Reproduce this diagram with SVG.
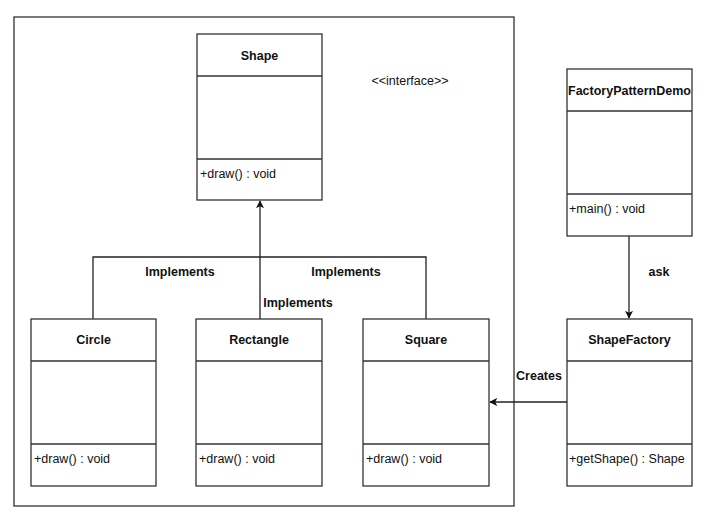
<svg xmlns="http://www.w3.org/2000/svg" width="710" height="516" viewBox="0 0 710 516">
<style>
.box{fill:#fff;stroke:#333;stroke-width:1.3}
.div{stroke:#333;stroke-width:1.3}
.t{font-family:"Liberation Sans",Arial,sans-serif;font-size:12.5px;fill:#111}
.b{font-weight:bold;text-anchor:middle}
.c{fill:none;stroke:#222;stroke-width:1.3}
</style>
<defs>
<marker id="arr" viewBox="0 0 10 10" refX="9" refY="5" markerWidth="8" markerHeight="8" markerUnits="userSpaceOnUse" orient="auto">
<path d="M0,0 L10,5 L0,10 L2.5,5 Z" fill="#111"/>
</marker>
</defs>
<rect x="0" y="0" width="710" height="516" fill="#fff"/>
<g id="frame">
<rect x="14" y="17" width="500" height="489" class="box"/>
<text x="410" y="85" class="t" text-anchor="middle">&lt;&lt;interface&gt;&gt;</text>
</g>
<g id="connectors">
<path d="M93,319 V257 H426 V319" class="c"/>
<path d="M260,319 V201" class="c" marker-end="url(#arr)"/>
<path d="M629,236 V318" class="c" marker-end="url(#arr)"/>
<path d="M567,402 H490" class="c" marker-end="url(#arr)"/>
<text x="180" y="276" class="t b">Implements</text>
<text x="346" y="276" class="t b">Implements</text>
<text x="298" y="307" class="t b">Implements</text>
<text x="659" y="276" class="t b">ask</text>
<text x="539" y="380" class="t b">Creates</text>
</g>
<g id="Shape">
<rect x="197" y="34" width="125" height="166" class="box"/>
<line x1="197" y1="76" x2="322" y2="76" class="div"/>
<line x1="197" y1="159" x2="322" y2="159" class="div"/>
<text x="259.5" y="60" class="t b">Shape</text>
<text x="200" y="178" class="t">+draw() : void</text>
</g>
<g id="Circle">
<rect x="31" y="319" width="125" height="167" class="box"/>
<line x1="31" y1="361" x2="156" y2="361" class="div"/>
<line x1="31" y1="444" x2="156" y2="444" class="div"/>
<text x="93.5" y="344" class="t b">Circle</text>
<text x="34" y="463" class="t">+draw() : void</text>
</g>
<g id="Rectangle">
<rect x="196" y="319" width="126" height="167" class="box"/>
<line x1="196" y1="361" x2="322" y2="361" class="div"/>
<line x1="196" y1="444" x2="322" y2="444" class="div"/>
<text x="259" y="344" class="t b">Rectangle</text>
<text x="199" y="463" class="t">+draw() : void</text>
</g>
<g id="Square">
<rect x="363" y="319" width="126" height="167" class="box"/>
<line x1="363" y1="361" x2="489" y2="361" class="div"/>
<line x1="363" y1="444" x2="489" y2="444" class="div"/>
<text x="426" y="344" class="t b">Square</text>
<text x="366" y="463" class="t">+draw() : void</text>
</g>
<g id="FactoryPatternDemo">
<rect x="567" y="69" width="125" height="167" class="box"/>
<line x1="567" y1="111" x2="692" y2="111" class="div"/>
<line x1="567" y1="194" x2="692" y2="194" class="div"/>
<text x="629.5" y="95" class="t b">FactoryPatternDemo</text>
<text x="569" y="213" class="t">+main() : void</text>
</g>
<g id="ShapeFactory">
<rect x="567" y="319" width="125" height="167" class="box"/>
<line x1="567" y1="361" x2="692" y2="361" class="div"/>
<line x1="567" y1="444" x2="692" y2="444" class="div"/>
<text x="629.5" y="344" class="t b">ShapeFactory</text>
<text x="569" y="463" class="t">+getShape() : Shape</text>
</g>
</svg>
